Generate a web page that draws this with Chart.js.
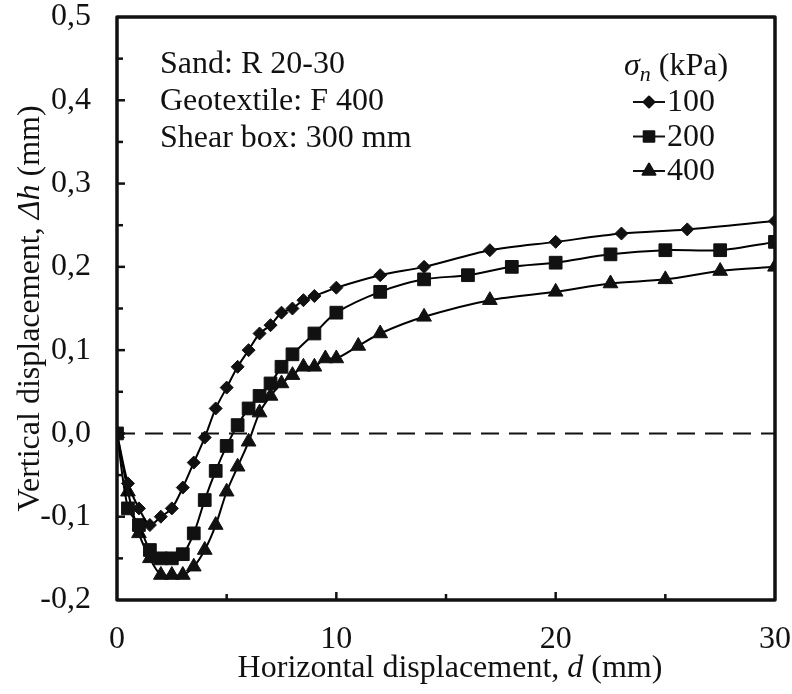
<!DOCTYPE html>
<html>
<head>
<meta charset="utf-8">
<script src="https://cdn.jsdelivr.net/npm/chart.js@4"></script>
<style>
  html, body { margin: 0; padding: 0; background: #fff; }
  #wrap { width: 792px; height: 694px; }
</style>
</head>
<body>
<div id="wrap"><canvas id="shearChart" width="792" height="694"></canvas></div>
<script>
// horizontal displacement d (mm) / vertical displacement dh (mm)
const d100 = [0, 0.5, 1, 1.5, 2, 2.5, 3, 3.5, 4, 4.5, 5, 5.5, 6, 6.5, 7, 7.5, 8, 8.5, 9, 10, 12, 14, 17, 20, 23, 26, 30];
const dh100 = [0, -0.06, -0.09, -0.11, -0.10, -0.09, -0.065, -0.035, -0.005, 0.03, 0.055, 0.08, 0.10, 0.12, 0.13, 0.145, 0.15, 0.16, 0.165, 0.175, 0.19, 0.20, 0.22, 0.23, 0.24, 0.245, 0.255];

const d200 = [0, 0.5, 1, 1.5, 2, 2.5, 3, 3.5, 4, 4.5, 5, 5.5, 6, 6.5, 7, 7.5, 8, 9, 10, 12, 14, 16, 18, 20, 22.5, 25, 27.5, 30];
const dh200 = [0, -0.09, -0.11, -0.14, -0.15, -0.15, -0.145, -0.12, -0.08, -0.045, -0.015, 0.01, 0.03, 0.045, 0.06, 0.08, 0.095, 0.12, 0.145, 0.17, 0.185, 0.19, 0.20, 0.205, 0.215, 0.22, 0.22, 0.23];

const d400 = [0, 0.5, 1, 1.5, 2, 2.5, 3, 3.5, 4, 4.5, 5, 5.5, 6, 6.5, 7, 7.5, 8, 8.5, 9, 9.5, 10, 11, 12, 14, 17, 20, 22.5, 25, 27.5, 30];
const dh400 = [0, -0.07, -0.12, -0.15, -0.17, -0.17, -0.17, -0.16, -0.14, -0.11, -0.07, -0.04, -0.01, 0.025, 0.045, 0.06, 0.07, 0.08, 0.08, 0.09, 0.09, 0.105, 0.12, 0.14, 0.16, 0.17, 0.18, 0.185, 0.195, 0.20];

const seriesLabels = ['100', '200', '400'];
const zeroX = [0, 30];
const zeroY = [0, 0];

const xMin = 0, xMax = 30, xStep = 5, xLabelStep = 10;
const yMin = -0.2, yMax = 0.5, yStep = 0.05, yLabelStep = 0.1;

const infoLines = ['Sand: R 20-30', 'Geotextile: F 400', 'Shear box: 300 mm'];

const FONT = '"Liberation Serif", "Times New Roman", serif';
const FS = 32;

function pts(xs, ys) {
    return xs.map((x, i) => ({ x: x, y: ys[i] }));
}

function series(label, xs, ys, style, radius, legendRadius) {
    return {
        label: label,
        data: pts(xs, ys),
        borderColor: '#000',
        backgroundColor: '#111',
        borderWidth: 2,
        pointStyle: style,
        pointRadius: radius,
        pointBorderWidth: 1,
        pointBorderColor: '#111',
        legendRadius: legendRadius,
        tension: 0.3,
        fill: false
    };
}

// draw a string made of normal/italic runs, centered on 0,0
function drawRuns(ctx, runs, size) {
    let total = 0;
    runs.forEach(r => {
        ctx.font = (r.it ? 'italic ' : '') + size + 'px ' + FONT;
        r.w = ctx.measureText(r.t).width;
        total += r.w;
    });
    let x = -total / 2;
    runs.forEach(r => {
        ctx.font = (r.it ? 'italic ' : '') + size + 'px ' + FONT;
        ctx.fillText(r.t, x, 0);
        x += r.w;
    });
}

const framePlugin = {
    id: 'frame',
    afterDraw(chart) {
        const ctx = chart.ctx;
        const a = chart.chartArea;
        const xs = chart.scales.x, ys = chart.scales.y;
        ctx.save();
        ctx.strokeStyle = '#111';
        ctx.fillStyle = '#111';

        // inward ticks
        ctx.lineWidth = 2.5;
        for (let v = xMin + xStep; v < xMax; v += xStep) {
            const px = xs.getPixelForValue(v);
            const len = (Math.abs(v % xLabelStep) < 1e-9) ? 8 : 6;
            ctx.beginPath();
            ctx.moveTo(px, a.bottom);
            ctx.lineTo(px, a.bottom - len);
            ctx.stroke();
        }
        for (let i = 1; i < Math.round((yMax - yMin) / yStep); i++) {
            const v = yMin + i * yStep;
            const py = ys.getPixelForValue(v);
            const len = (i % 2 === 0) ? 8 : 6;
            ctx.beginPath();
            ctx.moveTo(a.left, py);
            ctx.lineTo(a.left + len, py);
            ctx.stroke();
        }

        // box
        ctx.lineWidth = 3.5;
        ctx.lineJoin = 'round';
        ctx.strokeRect(a.left, a.top, a.right - a.left, a.bottom - a.top);

        // info text
        ctx.textAlign = 'left';
        ctx.textBaseline = 'alphabetic';
        ctx.font = FS + 'px ' + FONT;
        infoLines.forEach((t, i) => ctx.fillText(t, 160, 73 + i * 37));

        // legend header
        ctx.save();
        ctx.translate(676, 67);
        ctx.textBaseline = 'middle';
        ctx.font = 'italic ' + FS + 'px ' + FONT;
        const wS = ctx.measureText('\u03C3').width;
        ctx.font = 'italic 22px ' + FONT;
        const wN = ctx.measureText('n').width;
        ctx.font = FS + 'px ' + FONT;
        const wK = ctx.measureText(' (kPa)').width;
        const x = -(wS + wN + wK) / 2;
        ctx.font = 'italic ' + FS + 'px ' + FONT;
        ctx.fillText('\u03C3', x, 0);
        ctx.font = 'italic 22px ' + FONT;
        ctx.fillText('n', x + wS, 8);
        ctx.font = FS + 'px ' + FONT;
        ctx.fillText(' (kPa)', x + wS + wN, 0);
        ctx.restore();

        // legend entries
        chart.data.datasets.forEach((ds, i) => {
            if (!ds.pointStyle) return;
            const rowY = 102 + (i - 1) * 34.5;
            ctx.lineWidth = 2;
            ctx.beginPath();
            ctx.moveTo(633, rowY);
            ctx.lineTo(665, rowY);
            ctx.stroke();
            Chart.helpers.drawPoint(ctx, {
                pointStyle: ds.pointStyle,
                radius: ds.legendRadius,
                borderWidth: 1,
                rotation: 0
            }, 649, rowY);
            ctx.fill();
            ctx.textBaseline = 'middle';
            ctx.font = FS + 'px ' + FONT;
            ctx.fillText(ds.label, 667, rowY + 1);
        });

        // axis titles
        ctx.textBaseline = 'middle';
        ctx.save();
        ctx.translate((a.left + a.right) / 2 + 4, 669);
        drawRuns(ctx, [{ t: 'Horizontal displacement, ' }, { t: 'd', it: true }, { t: ' (mm)' }], FS);
        ctx.restore();

        ctx.save();
        ctx.translate(31, (a.top + a.bottom) / 2);
        ctx.rotate(-Math.PI / 2);
        drawRuns(ctx, [{ t: 'Vertical displacement, ' }, { t: '\u0394h', it: true }, { t: ' (mm)' }], FS);
        ctx.restore();

        ctx.restore();
    }
};

document.addEventListener('DOMContentLoaded', () => {
    const ctx = document.getElementById('shearChart').getContext('2d');
    new Chart(ctx, {
        type: 'line',
        data: {
            datasets: [
                {
                    label: 'zero',
                    data: pts(zeroX, zeroY),
                    borderColor: '#111',
                    borderWidth: 2,
                    borderDash: [18, 10],
                    pointRadius: 0,
                    tension: 0
                },
                series(seriesLabels[0], d100, dh100, 'rectRot', 6.5, 5.5),
                series(seriesLabels[1], d200, dh200, 'rect', 9, 7.5),
                series(seriesLabels[2], d400, dh400, 'triangle', 8.5, 7.5)
            ]
        },
        options: {
            responsive: false,
            animation: false,
            events: [],
            layout: { padding: { top: 17, right: 17, left: 0, bottom: 0 } },
            plugins: {
                legend: { display: false },
                tooltip: { enabled: false }
            },
            scales: {
                x: {
                    type: 'linear',
                    min: xMin,
                    max: xMax,
                    border: { display: false },
                    grid: { display: false, drawTicks: false },
                    afterFit: s => { s.height = 94; s.paddingLeft = 0; s.paddingRight = 0; },
                    ticks: {
                        stepSize: xLabelStep,
                        padding: 20,
                        color: '#111',
                        font: { family: FONT, size: FS },
                        maxRotation: 0
                    }
                },
                y: {
                    type: 'linear',
                    min: yMin,
                    max: yMax,
                    border: { display: false },
                    grid: { display: false, drawTicks: false },
                    afterFit: s => { s.width = 117; s.paddingTop = 0; s.paddingBottom = 0; },
                    ticks: {
                        stepSize: yLabelStep,
                        padding: 26,
                        color: '#111',
                        font: { family: FONT, size: FS },
                        callback: v => (Math.round(v * 10) / 10).toFixed(1).replace('.', ',')
                    }
                }
            }
        },
        plugins: [framePlugin]
    });
});
</script>
</body>
</html>
